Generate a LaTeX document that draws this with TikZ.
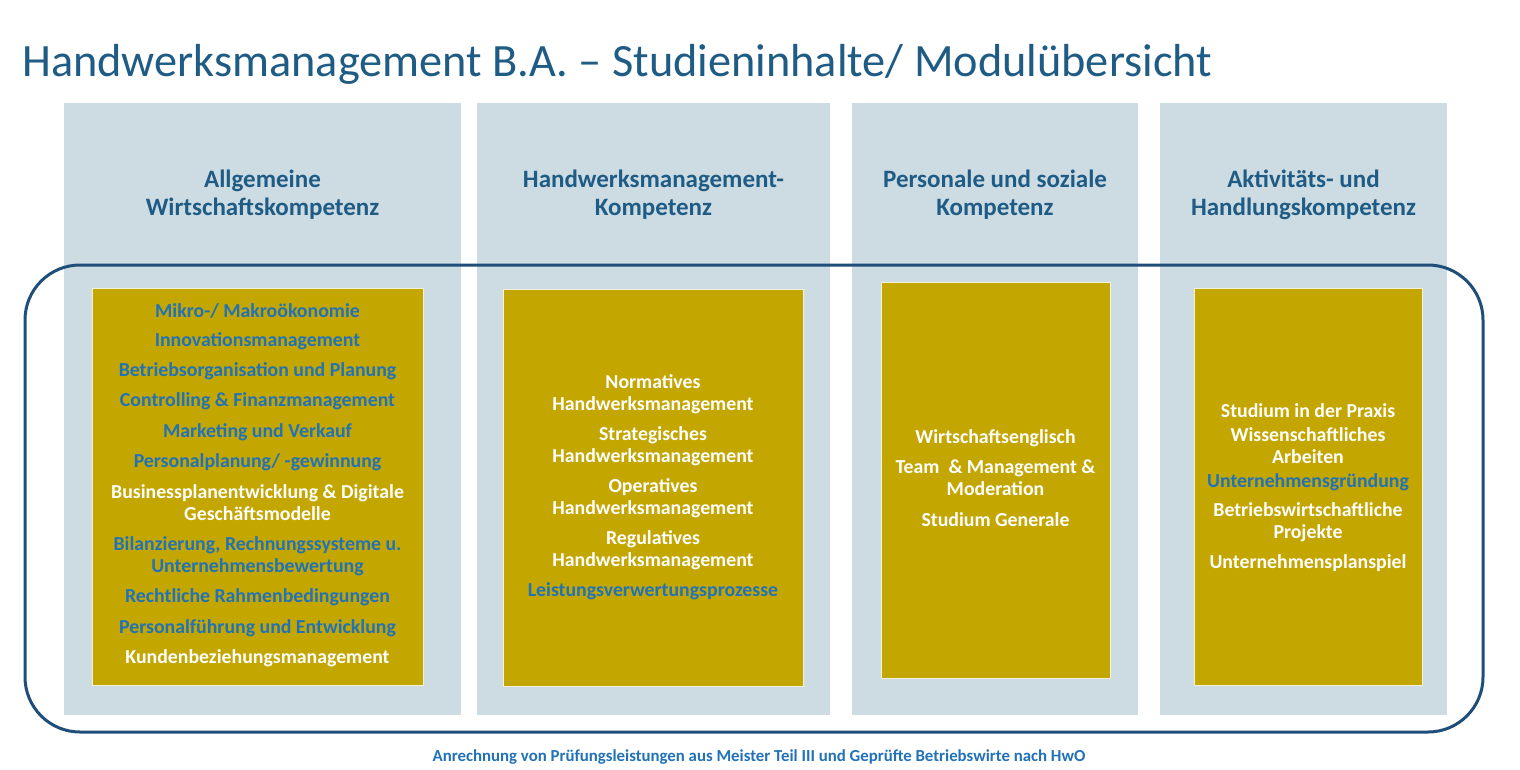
\documentclass[tikz,border=0pt]{standalone}
\usepackage{fontspec}
\setmainfont{Carlito}
\definecolor{tblue}{HTML}{1F5C85}
\definecolor{panel}{HTML}{CDDBE2}
\definecolor{gold}{HTML}{C3A600}
\definecolor{mblue}{HTML}{2272B8}
\definecolor{frame}{HTML}{1F4E79}
\begin{document}
\begin{tikzpicture}[x=1pt,y=-1pt,
 panelbox/.style={fill=panel,draw=none},
 goldbox/.style={fill=gold,draw=white!85!gold,line width=1pt},
 head/.style={font=\bfseries\fontsize{25}{28}\selectfont,text=tblue,align=center},
 mb/.style={font=\bfseries\fontsize{19.8}{22}\selectfont,text=mblue,align=center},
 mw/.style={font=\bfseries\fontsize{19.8}{22}\selectfont,text=white,align=center}]
\useasboundingbox (0,0) rectangle (1520,769);
\fill[white] (0,0) rectangle (1520,769);
\node[anchor=base west,font=\fontsize{46.3}{50}\selectfont,text=tblue,inner sep=0] (title) at (22,76) {Handwerksmanagement B.A. – Studieninhalte/ Modulübersicht};
\fill[panelbox] (64,103) rectangle (461,715);
\fill[panelbox] (477,103) rectangle (830,715);
\fill[panelbox] (852,103) rectangle (1138,715);
\fill[panelbox] (1160,103) rectangle (1447,715);
\node[head] (h1) at (262.5,195) {Allgemeine\\Wirtschaftskompetenz};
\node[head] (h2) at (653.5,195) {Handwerksmanagement-\\Kompetenz};
\node[head] (h3) at (995,195) {Personale und soziale\\Kompetenz};
\node[head] (h4) at (1303.5,195) {Aktivitäts- und\\Handlungskompetenz};
\draw[frame,line width=3pt,rounded corners=55pt] (25,265) rectangle (1483,732);
\draw[goldbox] (92,288) rectangle (423,685);
\draw[goldbox] (503,289) rectangle (803,686);
\draw[goldbox] (881,282) rectangle (1110,678);
\draw[goldbox] (1194,288) rectangle (1422,685);
% column 1
\node[mb] (a1) at (257.5,311) {Mikro-/ Makroökonomie};
\node[mb] (a2) at (257.5,341) {Innovationsmanagement};
\node[mb] (a3) at (257.5,371) {Betriebsorganisation und Planung};
\node[mb] (a4) at (257.5,401) {Controlling \& Finanzmanagement};
\node[mb] (a5) at (257.5,432) {Marketing und Verkauf};
\node[mb] (a6) at (257.5,462) {Personalplanung/ -gewinnung};
\node[mw] (a7) at (257.5,503) {Businessplanentwicklung \& Digitale\\Geschäftsmodelle};
\node[mb] (a8) at (257.5,556) {Bilanzierung, Rechnungssysteme u.\\Unternehmensbewertung};
\node[mb] (a9) at (257.5,597) {Rechtliche Rahmenbedingungen};
\node[mb] (a10) at (257.5,628) {Personalführung und Entwicklung};
\node[mw] (a11) at (257.5,658) {Kundenbeziehungsmanagement};
% column 2
\node[mw] (b1) at (653,394) {Normatives\\Handwerksmanagement};
\node[mw] (b2) at (653,446) {Strategisches\\Handwerksmanagement};
\node[mw] (b3) at (653,498) {Operatives\\Handwerksmanagement};
\node[mw] (b4) at (653,550) {Regulatives\\Handwerksmanagement};
\node[mb] (b5) at (653,591) {Leistungsverwertungsprozesse};
% column 3
\node[mw] (c1) at (995.5,438) {Wirtschaftsenglisch};
\node[mw] (c2) at (995.5,478) {Team~ \& Management \&\\Moderation};
\node[mw] (c3) at (995.5,520) {Studium Generale};
% column 4
\node[mw] (d1) at (1308,411) {Studium in der Praxis};
\node[mw] (d2) at (1308,446) {Wissenschaftliches\\Arbeiten};
\node[mb] (d3) at (1308,482) {Unternehmensgründung};
\node[mw] (d4) at (1308,522) {Betriebswirtschaftliche\\Projekte};
\node[mw] (d5) at (1308,563) {Unternehmensplanspiel};
\node[font=\bfseries\fontsize{16.8}{18}\selectfont,text=mblue] (foot) at (759,757) {Anrechnung von Prüfungsleistungen aus Meister Teil III und Geprüfte Betriebswirte nach HwO};
\end{tikzpicture}
\end{document}
